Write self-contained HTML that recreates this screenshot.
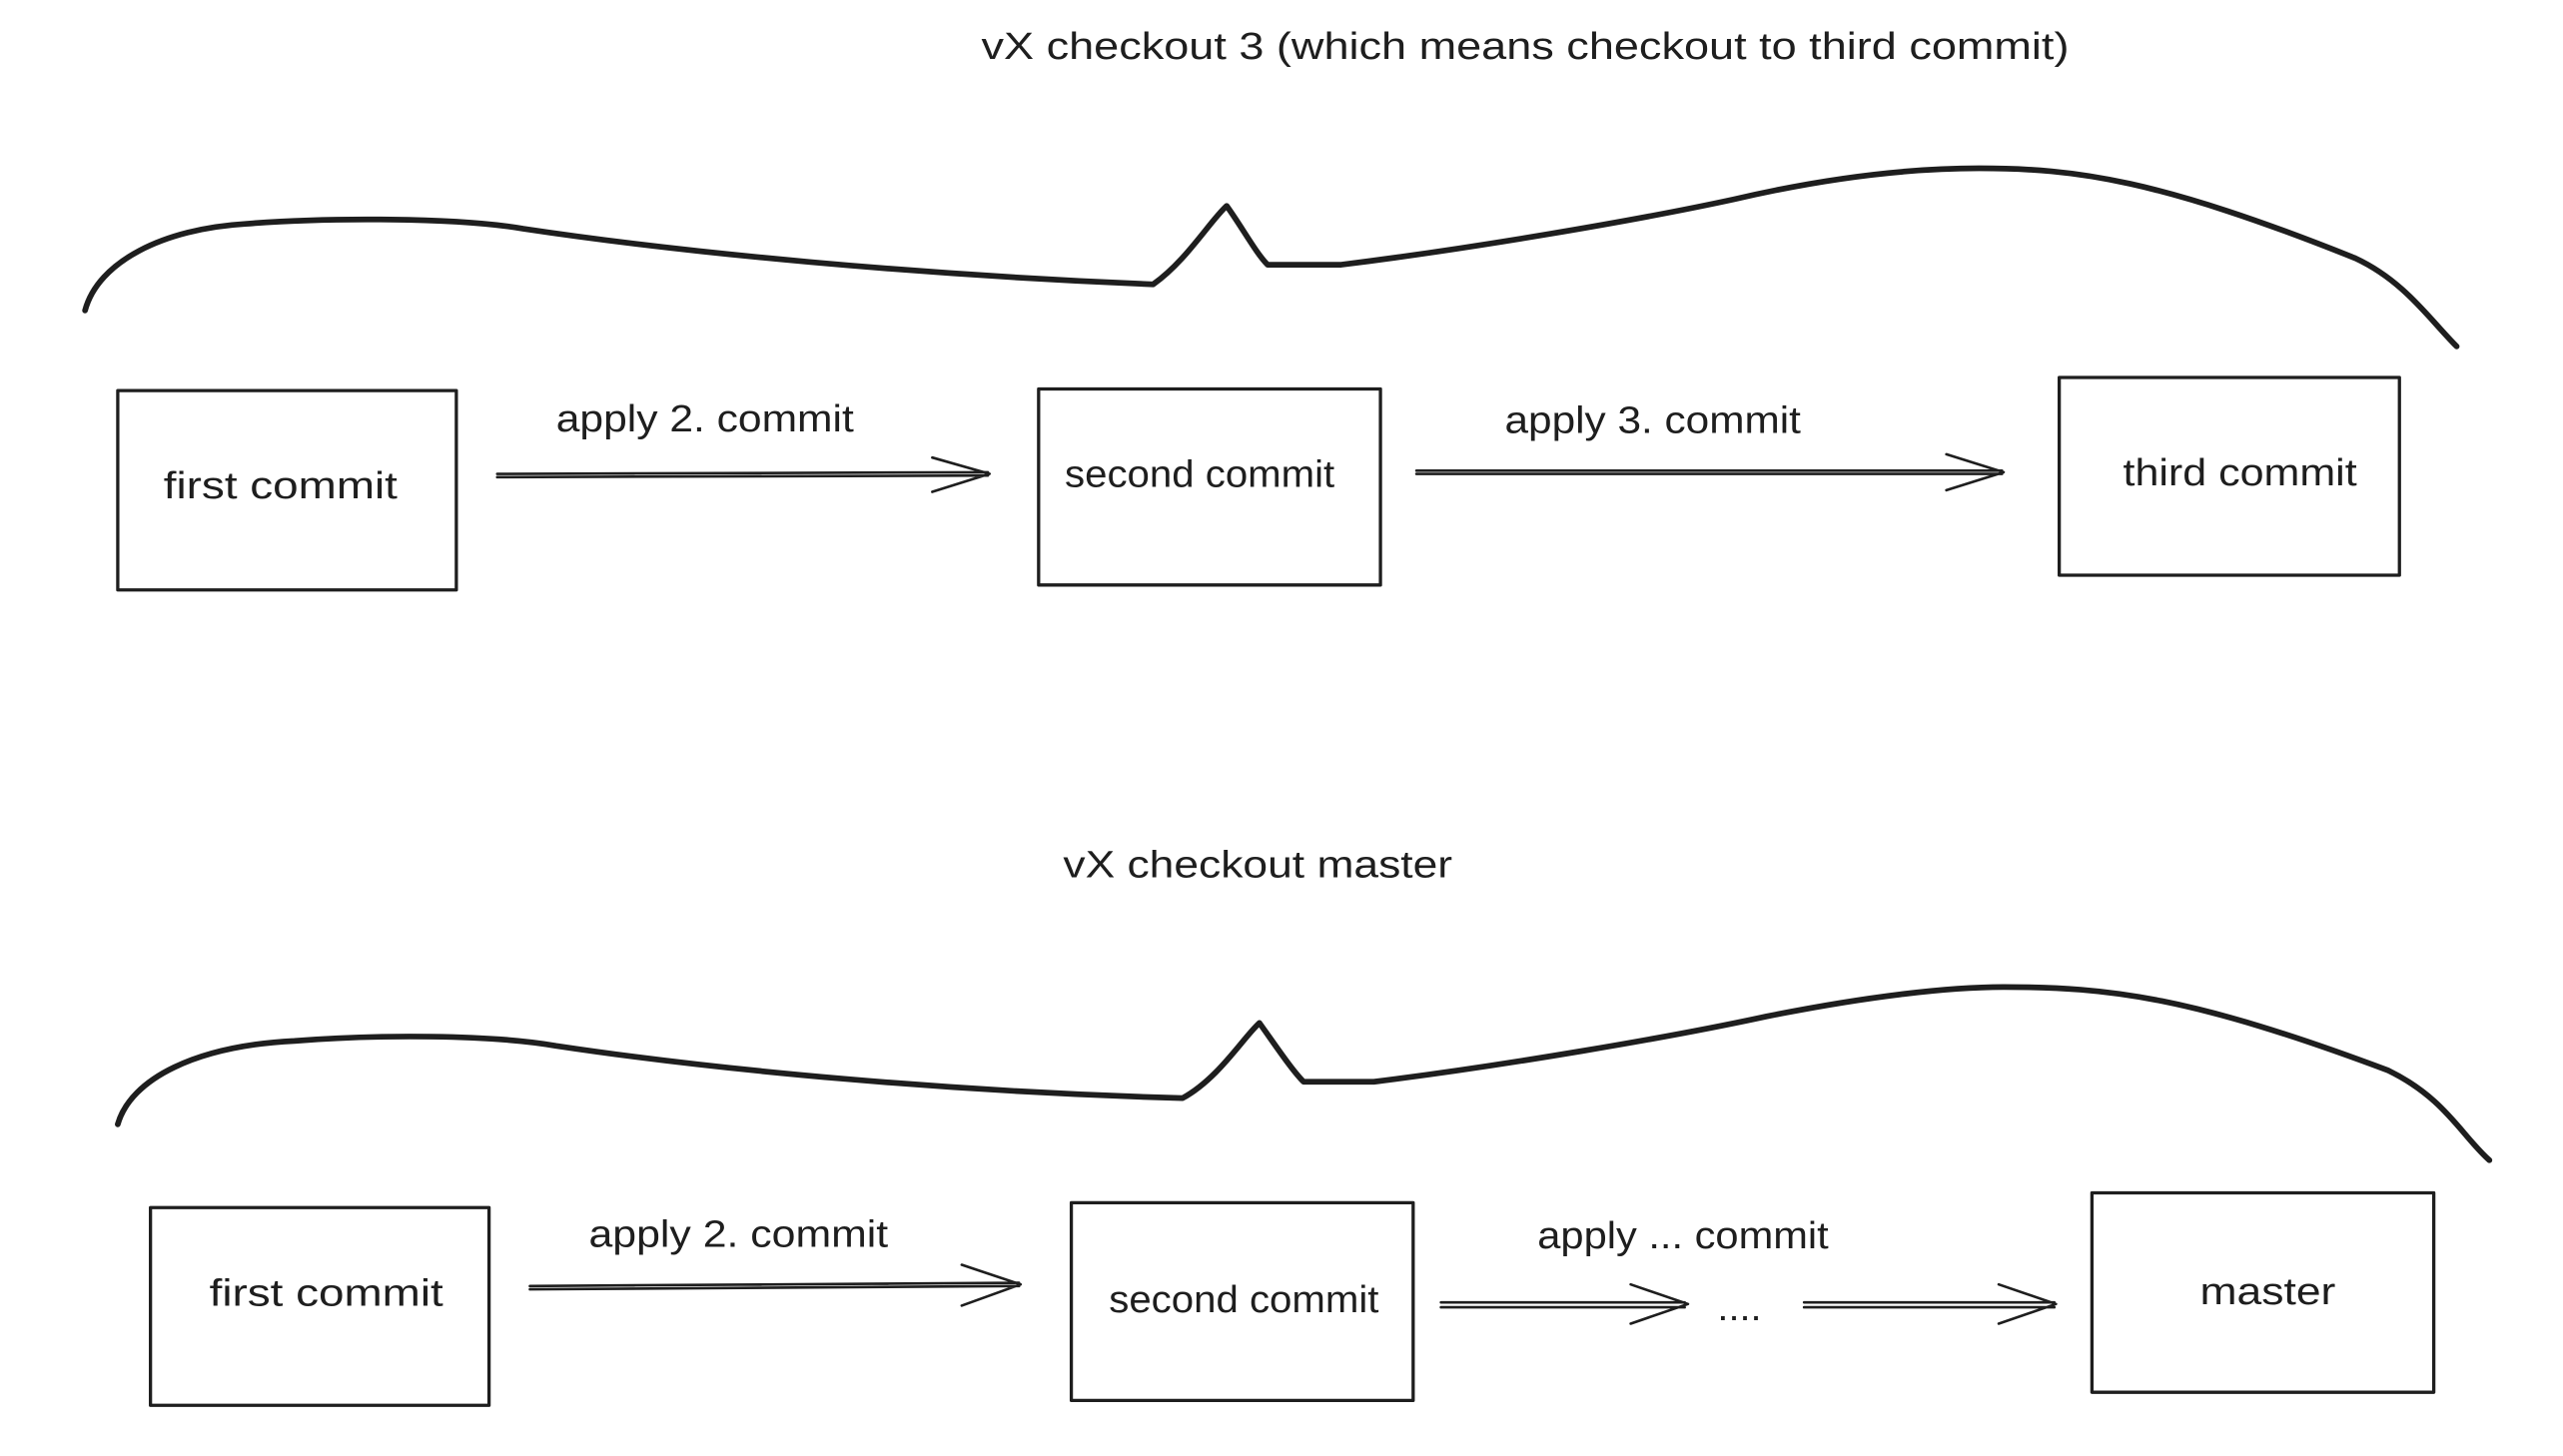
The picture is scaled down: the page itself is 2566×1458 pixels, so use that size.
<!DOCTYPE html>
<html><head><meta charset="utf-8"><style>
html,body{margin:0;padding:0;background:#fff;}
svg{display:block;}
text{font-family:"Liberation Sans",sans-serif;font-size:23px;fill:#1e1e1e;}
</style></head><body>
<svg width="2566" height="1458" viewBox="0 0 1567 891" preserveAspectRatio="none" xmlns="http://www.w3.org/2000/svg">
<g fill="none" stroke="#1e1e1e" stroke-linecap="round" stroke-linejoin="round">
<path d="M52,190 C60,160 100,140 150,137 C200,133 280,133 320,140 C420,155 560,168 705,174 C725,160 740,135 750,126 C760,140 768,155 775,162 L820,162 C900,152 1000,135 1060,122 C1120,108 1170,103 1210,103 C1270,103 1320,110 1440,158 C1470,172 1485,195 1502,212" stroke-width="3.5"/>
<path d="M72,688 C80,660 120,640 180,637 C230,633 300,633 340,640 C440,655 580,668 723,672 C745,660 760,635 770,626 C780,640 790,655 797,662 L840,662 C920,652 1020,635 1080,622 C1140,610 1190,604 1225,604 C1290,604 1340,610 1460,655 C1495,672 1505,695 1522,710" stroke-width="3.5"/>
<rect x="72" y="239" width="207" height="122" stroke-width="2"/>
<rect x="635" y="238" width="209" height="120" stroke-width="2"/>
<rect x="1259" y="231" width="208" height="121" stroke-width="2"/>
<rect x="92" y="739" width="207" height="121" stroke-width="2"/>
<rect x="655" y="736" width="209" height="121" stroke-width="2"/>
<rect x="1279" y="730" width="209" height="122" stroke-width="2"/>
<g stroke-width="1.6">
<path d="M304,290 L604,289 M304,292 L604,291 M570,280 L605,290 L570,301"/>
<path d="M866,288 L1224,288 M866,290 L1224,290 M1190,278 L1225,289 L1190,300"/>
<path d="M324,787 L623,785 M324,789 L623,787 M588,774 L624,786 L588,799"/>
<path d="M881,797 L1030,797 M881,800 L1030,800 M997,786 L1032,798 L997,810"/>
<path d="M1103,797 L1256,797 M1103,800 L1256,800 M1222,786 L1257,798 L1222,810"/>
</g>
</g>
<text x="600" y="36" textLength="665" lengthAdjust="spacingAndGlyphs">vX checkout 3  (which means checkout to third commit)</text>
<text x="340" y="264" textLength="182" lengthAdjust="spacingAndGlyphs">apply 2. commit</text>
<text x="920" y="265" textLength="181" lengthAdjust="spacingAndGlyphs">apply 3. commit</text>
<text x="100" y="305" textLength="143" lengthAdjust="spacingAndGlyphs">first commit</text>
<text x="651" y="298" textLength="165" lengthAdjust="spacingAndGlyphs">second commit</text>
<text x="1298" y="297" textLength="143" lengthAdjust="spacingAndGlyphs">third commit</text>
<text x="650" y="537" textLength="238" lengthAdjust="spacingAndGlyphs">vX checkout master</text>
<text x="360" y="763" textLength="183" lengthAdjust="spacingAndGlyphs">apply 2. commit</text>
<text x="940" y="764" textLength="178" lengthAdjust="spacingAndGlyphs">apply ... commit</text>
<text x="128" y="799" textLength="143" lengthAdjust="spacingAndGlyphs">first commit</text>
<text x="678" y="803" textLength="165" lengthAdjust="spacingAndGlyphs">second commit</text>
<text x="1345" y="798" textLength="83" lengthAdjust="spacingAndGlyphs">master</text>
<text x="1050" y="808" textLength="27" lengthAdjust="spacingAndGlyphs">....</text>
</svg>
</body></html>
